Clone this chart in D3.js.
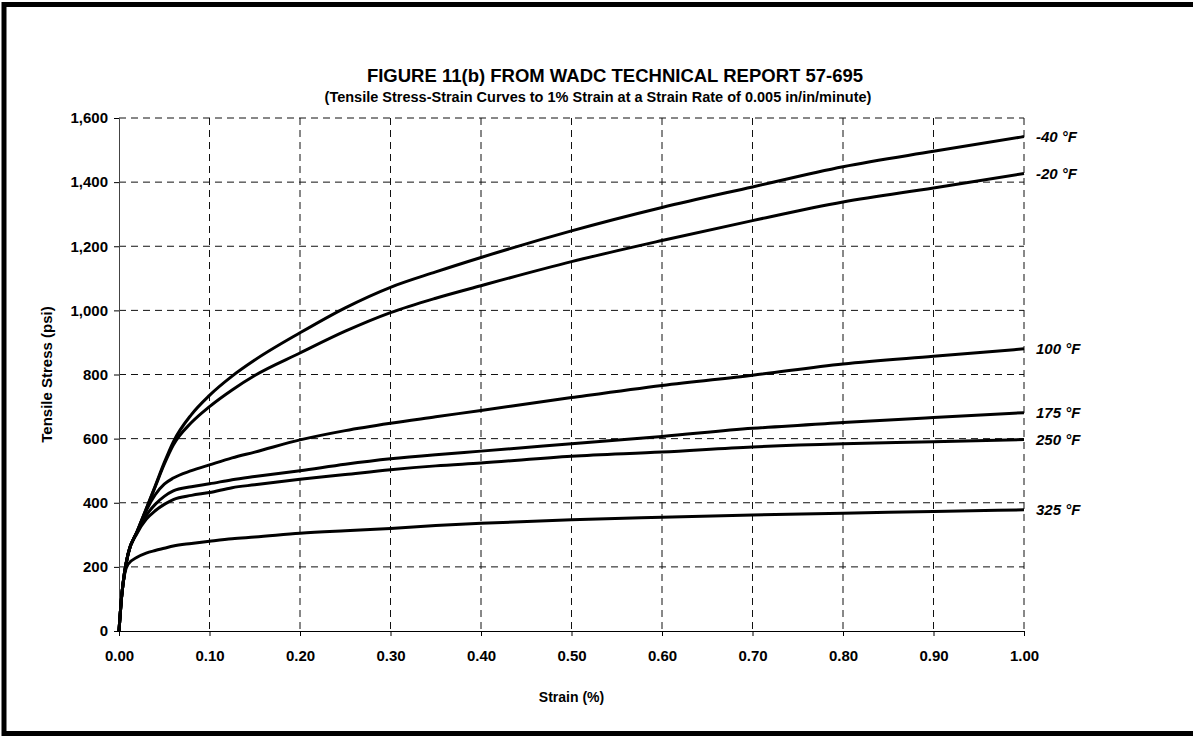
<!DOCTYPE html>
<html>
<head>
<meta charset="utf-8">
<script src="https://cdn.jsdelivr.net/npm/d3@7"></script>
<style>
  body { margin: 0; background: #fff; }
  svg { display: block; font-family: "Liberation Sans", Arial, sans-serif; }
</style>
</head>
<body>
<div id="chart"></div>
<script>
// strain (%) sample points shared by every curve
const strain = [0, 0.003, 0.006, 0.01, 0.02, 0.03, 0.04, 0.05, 0.06, 0.08, 0.10, 0.125, 0.15, 0.20, 0.25, 0.30, 0.35, 0.40, 0.50, 0.60, 0.70, 0.80, 0.90, 1.00]

// tensile stress (psi)
const stressM40 = [0, 110, 180, 240, 310, 380, 452, 525, 590, 675, 735, 795, 845, 930, 1008, 1072, 1120, 1165, 1248, 1321, 1385, 1448, 1496, 1542]
const stressM20 = [0, 110, 180, 240, 310, 380, 450, 520, 580, 650, 700, 752, 797, 867, 935, 993, 1038, 1077, 1152, 1218, 1280, 1338, 1382, 1427]
const stress100 = [0, 110, 180, 240, 310, 375, 425, 458, 477, 500, 518, 540, 558, 596, 625, 648, 668, 688, 728, 766, 798, 833, 857, 880]
const stress175 = [0, 110, 180, 240, 308, 360, 395, 420, 437, 450, 459, 472, 482, 500, 520, 537, 550, 561, 584, 607, 632, 650, 666, 681]
const stress250 = [0, 110, 180, 240, 305, 348, 375, 395, 410, 423, 432, 447, 456, 473, 488, 503, 515, 524, 545, 558, 574, 584, 590, 597]
const stress325 = [0, 110, 175, 208, 230, 243, 251, 258, 265, 273, 280, 288, 293, 305, 313, 320, 329, 336, 347, 355, 362, 367, 373, 378]

const seriesNames = ['-40 °F', '-20 °F', '100 °F', '175 °F', '250 °F', '325 °F']
const seriesValues = [stressM40, stressM20, stress100, stress175, stress250, stress325]

const xTicks = [0, 0.1, 0.2, 0.3, 0.4, 0.5, 0.6, 0.7, 0.8, 0.9, 1.0]
const yTicks = [0, 200, 400, 600, 800, 1000, 1200, 1400, 1600]

const W = 1193
const H = 736
const margin = { top: 118, right: 169, bottom: 105, left: 119 }
const width = W - margin.left - margin.right
const height = H - margin.top - margin.bottom

const svg = d3.select('#chart')
  .append('svg')
  .attr('width', W)
  .attr('height', H)

// outer frame of the scanned page (right edge runs off the picture)
svg.append('rect')
  .attr('x', 4)
  .attr('y', 4.5)
  .attr('width', W + 20)
  .attr('height', 729)
  .attr('fill', 'none')
  .attr('stroke', '#000')
  .attr('stroke-width', 5)

const g = svg.append('g')
  .attr('transform', `translate(${margin.left},${margin.top})`)

const x = d3.scaleLinear().domain([0, 1]).range([0, width])
const y = d3.scaleLinear().domain([0, 1600]).range([height, 0])

// dashed grid
g.append('g')
  .selectAll('line')
  .data(xTicks.slice(1))
  .join('line')
  .attr('x1', d => x(d)).attr('x2', d => x(d))
  .attr('y1', 0).attr('y2', height)
  .attr('stroke', '#111')
  .attr('stroke-width', 1)
  .attr('stroke-dasharray', '7,5')

g.append('g')
  .selectAll('line')
  .data(yTicks.slice(1))
  .join('line')
  .attr('x1', 0).attr('x2', width)
  .attr('y1', d => y(d)).attr('y2', d => y(d))
  .attr('stroke', '#111')
  .attr('stroke-width', 1)
  .attr('stroke-dasharray', '7,5')

// axes
const yAxis = g.append('g')
  .call(d3.axisLeft(y)
    .tickValues(yTicks)
    .tickSize(5)
    .tickPadding(6)
    .tickFormat(d3.format(',')))
yAxis.select('.domain').attr('stroke', '#444')

const xAxis = g.append('g')
  .attr('transform', `translate(0,${height})`)
  .call(d3.axisBottom(x)
    .tickValues(xTicks)
    .tickSize(5)
    .tickPadding(14)
    .tickFormat(d3.format('.2f')))

g.selectAll('.tick text')
  .attr('font-family', '"Liberation Sans", Arial, sans-serif')
  .attr('font-size', 15)
  .attr('font-weight', 'bold')
  .attr('fill', '#000')

// curves
const line = d3.line()
  .x((d, i) => x(strain[i]))
  .y(d => y(d))
  .curve(d3.curveMonotoneX)

g.append('g')
  .selectAll('path')
  .data(seriesValues)
  .join('path')
  .attr('d', d => line(d))
  .attr('fill', 'none')
  .attr('stroke', '#000')
  .attr('stroke-width', 3)

// curve labels at the right end
g.append('g')
  .selectAll('text')
  .data(seriesValues)
  .join('text')
  .attr('x', width + 12)
  .attr('y', d => y(d[d.length - 1]))
  .attr('dy', '0.35em')
  .attr('font-size', 15)
  .attr('font-weight', 'bold')
  .attr('font-style', 'italic')
  .text((d, i) => seriesNames[i])

// titles
svg.append('text')
  .attr('x', 615)
  .attr('y', 82)
  .attr('text-anchor', 'middle')
  .attr('font-size', 18.5)
  .attr('font-weight', 'bold')
  .text('FIGURE 11(b) FROM WADC TECHNICAL REPORT 57-695')

svg.append('text')
  .attr('x', 598)
  .attr('y', 102)
  .attr('text-anchor', 'middle')
  .attr('font-size', 14.5)
  .attr('font-weight', 'bold')
  .text('(Tensile Stress-Strain Curves to 1% Strain at a Strain Rate of 0.005 in/in/minute)')

svg.append('text')
  .attr('x', margin.left + width / 2)
  .attr('y', 702)
  .attr('text-anchor', 'middle')
  .attr('font-size', 14)
  .attr('font-weight', 'bold')
  .text('Strain (%)')

svg.append('text')
  .attr('transform', `translate(52,${margin.top + height / 2}) rotate(-90)`)
  .attr('text-anchor', 'middle')
  .attr('font-size', 15)
  .attr('font-weight', 'bold')
  .text('Tensile Stress (psi)')
</script>
</body>
</html>
